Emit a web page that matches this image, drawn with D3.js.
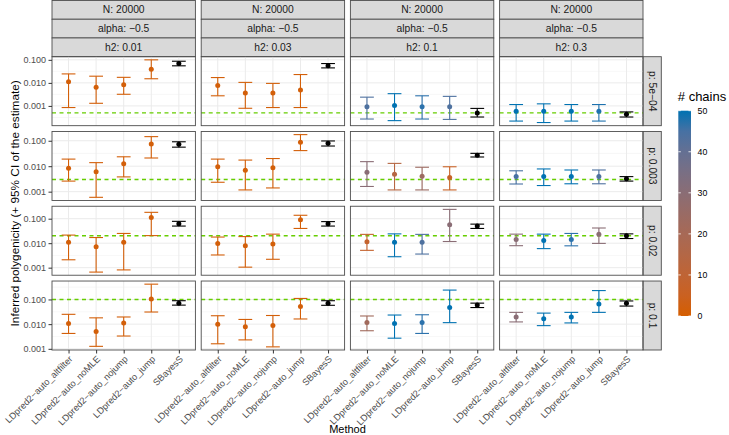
<!DOCTYPE html>
<html>
<head>
<meta charset="utf-8">
<script src="https://cdn.jsdelivr.net/npm/d3@7"></script>
<style>
  body { margin: 0; background: #fff; }
  svg { display: block; }
  text { font-family: "Liberation Sans", Arial, Helvetica, sans-serif; }
</style>
</head>
<body>
<div id="chart"></div>
<script>
// facet labels (R's pdf device draws "-" as a minus sign)
const methods = ["LDpred2\u2212auto_altfilter", "LDpred2\u2212auto_noMLE", "LDpred2\u2212auto_nojump", "LDpred2\u2212auto_jump", "SBayesS"];
const h2Labels = ["0.01", "0.03", "0.1", "0.3"];
const pValues = [5e-4, 0.003, 0.02, 0.1];
const pLabels = ["5e\u221204", "0.003", "0.02", "0.1"];
const yTicks = [0.001, 0.01, 0.1];
const chainTicks = [0, 10, 20, 30, 40, 50];

// [p row][h2 column][method]
const estimate = [
  [[0.0112, 0.0065, 0.0083, 0.039, 0.069], [0.0076, 0.0036, 0.0036, 0.0049, 0.055],
   [0.00091, 0.00105, 0.00093, 0.00091, 0.00049], [0.00059, 0.00059, 0.00059, 0.00059, 0.00044]],
  [[0.0083, 0.0060, 0.0126, 0.074, 0.072], [0.0095, 0.0069, 0.0087, 0.087, 0.079],
   [0.0058, 0.0048, 0.0040, 0.0036, 0.027], [0.0039, 0.0039, 0.0039, 0.0039, 0.0032]],
  [[0.011, 0.0071, 0.011, 0.112, 0.062], [0.0098, 0.0079, 0.0093, 0.091, 0.062],
   [0.0115, 0.011, 0.011, 0.056, 0.050], [0.0141, 0.0129, 0.0141, 0.0234, 0.020]],
  [[0.0107, 0.0050, 0.0112, 0.105, 0.071], [0.0098, 0.0079, 0.0089, 0.052, 0.071],
   [0.0117, 0.0107, 0.0117, 0.047, 0.059], [0.0195, 0.0166, 0.0195, 0.065, 0.071]]
];
const lower = [
  [[0.00085, 0.0013, 0.0032, 0.0151, 0.055], [0.00275, 0.00079, 0.00085, 0.00085, 0.0447],
   [0.00027, 0.00023, 0.00027, 0.00026, 0.00033], [0.00022, 0.00019, 0.00022, 0.00022, 0.00033]],
  [[0.0026, 0.0006, 0.0038, 0.021, 0.056], [0.00234, 0.00117, 0.0014, 0.041, 0.062],
   [0.0016, 0.00117, 0.00117, 0.00117, 0.023], [0.0020, 0.00174, 0.00204, 0.00204, 0.0026]],
  [[0.0021, 0.00066, 0.00081, 0.0204, 0.050], [0.0033, 0.00105, 0.0022, 0.040, 0.050],
   [0.0051, 0.0028, 0.0036, 0.0117, 0.040], [0.0079, 0.0060, 0.0078, 0.0098, 0.0155]],
  [[0.0042, 0.00126, 0.0033, 0.031, 0.059], [0.0016, 0.0023, 0.0012, 0.0162, 0.058],
   [0.0054, 0.0027, 0.0042, 0.0115, 0.047], [0.0123, 0.0087, 0.0112, 0.030, 0.054]]
];
const upper = [
  [[0.0245, 0.0195, 0.0174, 0.100, 0.087], [0.017, 0.0105, 0.0095, 0.023, 0.069],
   [0.0024, 0.0034, 0.00275, 0.0026, 0.00078], [0.00115, 0.00123, 0.00115, 0.00115, 0.00055]],
  [[0.019, 0.0138, 0.0234, 0.145, 0.091], [0.019, 0.0174, 0.020, 0.174, 0.098],
   [0.0151, 0.0129, 0.0091, 0.0095, 0.032], [0.0066, 0.0078, 0.0071, 0.0071, 0.0039]],
  [[0.0214, 0.017, 0.025, 0.182, 0.078], [0.0178, 0.0186, 0.0234, 0.138, 0.076],
   [0.0229, 0.024, 0.0229, 0.24, 0.060], [0.0234, 0.0234, 0.025, 0.0417, 0.024]],
  [[0.025, 0.018, 0.0195, 0.417, 0.089], [0.0219, 0.0155, 0.0224, 0.11, 0.089],
   [0.0214, 0.0234, 0.024, 0.24, 0.071], [0.030, 0.028, 0.030, 0.229, 0.087]]
];
// number of chains kept (SBayesS has none -> drawn in black)
const chains = [
  [[1, 1, 1, 1, null], [1, 1, 1, 1, null], [44, 50, 48, 44, null], [50, 50, 50, 49, null]],
  [[1, 1, 1, 1, null], [1, 1, 1, 1, null], [30, 14, 24, 6, null], [45, 50, 50, 44, null]],
  [[1, 1, 1, 1, null], [1, 1, 1, 1, null], [8, 50, 44, 30, null], [30, 50, 48, 30, null]],
  [[1, 1, 1, 1, null], [1, 1, 1, 1, null], [22, 50, 48, 50, null], [30, 50, 50, 50, null]]
];

const W = 729, H = 435;
const plotL = 52, plotR = 643, plotT = 56.7, plotB = 350, gap = 5.8;
const pw = (plotR - plotL - 3 * gap) / 4;
const ph = (plotB - plotT - 3 * gap) / 4;
const stripW = 18.3;
const border = "#4d4d4d";

const svg = d3.select("#chart").append("svg")
  .attr("width", W).attr("height", H);

const color = d3.scaleLinear().domain([0, 50])
  .range(["#D55E00", "#0072B2"])
  .interpolate(d3.interpolateLab);

const x = d3.scalePoint().domain(methods).range([0, pw]).padding(0.6);
const capW = x.step() * 0.5;

// one log scale per row (free y), 5% expansion like ggplot
const yScales = pValues.map((p, r) => {
  const vals = [].concat(...lower[r], ...upper[r], p).map(Math.log10);
  const lo = d3.min(vals), hi = d3.max(vals), pad = (hi - lo) * 0.05;
  return d3.scaleLog().domain([Math.pow(10, lo - pad), Math.pow(10, hi + pad)]).range([ph, 0]);
});

const fmt = d3.format(".3f");

// top strips
const stripLines = [c => "N: 20000", c => "alpha: \u22120.5", c => "h2: " + h2Labels[c]];
const sh = (plotT - 0.5) / 3;
h2Labels.forEach((h, c) => {
  const x0 = plotL + c * (pw + gap);
  stripLines.forEach((lab, k) => {
    const y0 = 0.5 + k * sh;
    svg.append("rect").attr("x", x0).attr("y", y0)
      .attr("width", pw).attr("height", sh)
      .attr("fill", "#d9d9d9").attr("stroke", border).attr("stroke-width", 0.9);
    svg.append("text").attr("x", x0 + pw / 2).attr("y", y0 + sh / 2 + 3.6)
      .attr("text-anchor", "middle").attr("font-size", 10.3).attr("fill", "#1a1a1a")
      .text(lab(c));
  });
});

pValues.forEach((p, r) => {
  const y0 = plotT + r * (ph + gap);
  const y = yScales[r];
  const [d0, d1] = y.domain().map(Math.log10);

  // right strip
  svg.append("rect").attr("x", plotR).attr("y", y0).attr("width", stripW).attr("height", ph)
    .attr("fill", "#d9d9d9").attr("stroke", border).attr("stroke-width", 0.9);
  svg.append("text")
    .attr("transform", `translate(${plotR + stripW / 2 - 3.6},${y0 + ph / 2}) rotate(90)`)
    .attr("text-anchor", "middle").attr("font-size", 10.3).attr("fill", "#1a1a1a")
    .text("p: " + pLabels[r]);

  h2Labels.forEach((h, c) => {
    const x0 = plotL + c * (pw + gap);
    const g = svg.append("g").attr("transform", `translate(${x0},${y0})`);

    // grid
    const minor = d3.range(Math.ceil(d0 - 0.5) + 0.5, d1, 1).filter(v => v > d0 && v < d1);
    g.selectAll(".minor").data(minor).enter().append("line")
      .attr("x1", 0).attr("x2", pw)
      .attr("y1", v => y(Math.pow(10, v))).attr("y2", v => y(Math.pow(10, v)))
      .attr("stroke", "#f2f2f2").attr("stroke-width", 0.6);
    g.selectAll(".major").data(yTicks).enter().append("line")
      .attr("x1", 0).attr("x2", pw).attr("y1", d => y(d)).attr("y2", d => y(d))
      .attr("stroke", "#ebebeb").attr("stroke-width", 1);
    g.selectAll(".vgrid").data(methods).enter().append("line")
      .attr("x1", d => x(d)).attr("x2", d => x(d)).attr("y1", 0).attr("y2", ph)
      .attr("stroke", "#ebebeb").attr("stroke-width", 1);

    // true polygenicity
    g.append("line").attr("x1", 0).attr("x2", pw).attr("y1", y(p)).attr("y2", y(p))
      .attr("stroke", "#66CD00").attr("stroke-width", 1.4).attr("stroke-dasharray", "4,3.5");

    const rows = methods.map((m, i) => ({
      m, est: estimate[r][c][i], lo: lower[r][c][i], hi: upper[r][c][i], n: chains[r][c][i]
    }));
    const col = d => d.n === null ? "#000" : color(d.n);

    const eb = g.selectAll(".eb").data(rows).enter().append("g");
    eb.append("line").attr("x1", d => x(d.m)).attr("x2", d => x(d.m))
      .attr("y1", d => y(d.lo)).attr("y2", d => y(d.hi))
      .attr("stroke", col).attr("stroke-width", 1.1);
    ["lo", "hi"].forEach(k => {
      eb.append("line").attr("x1", d => x(d.m) - capW / 2).attr("x2", d => x(d.m) + capW / 2)
        .attr("y1", d => y(d[k])).attr("y2", d => y(d[k]))
        .attr("stroke", col).attr("stroke-width", 1.1);
    });
    eb.append("circle").attr("cx", d => x(d.m)).attr("cy", d => y(d.est)).attr("r", 2.5)
      .attr("fill", col);

    // panel border
    g.append("rect").attr("width", pw).attr("height", ph)
      .attr("fill", "none").attr("stroke", border).attr("stroke-width", 0.9);

    // y axis on first column
    if (c === 0) {
      const ax = g.append("g").call(d3.axisLeft(y).tickValues(yTicks).tickFormat(fmt).tickSize(3.5).tickPadding(2.5));
      ax.select(".domain").remove();
      ax.selectAll("line").attr("stroke", "#333");
      ax.selectAll("text").attr("font-size", 9).attr("fill", "#4d4d4d")
        .attr("font-family", "Liberation Sans, Arial, sans-serif");
    }
    // x axis on last row
    if (r === pValues.length - 1) {
      const ax = g.append("g").attr("transform", `translate(0,${ph})`)
        .call(d3.axisBottom(x).tickSize(3.5).tickFormat(""));
      ax.select(".domain").remove();
      ax.selectAll("line").attr("stroke", "#333");
      g.selectAll(".xlab").data(methods).enter().append("text")
        .attr("transform", d => `translate(${x(d)},${ph + 5}) rotate(-45)`)
        .attr("text-anchor", "end").attr("dy", "0.71em")
        .attr("font-size", 9.2).attr("fill", "#4d4d4d")
        .text(d => d);
    }
  });
});

// axis titles
svg.append("text").attr("x", (plotL + plotR) / 2).attr("y", 433)
  .attr("text-anchor", "middle").attr("font-size", 11).text("Method");
svg.append("text")
  .attr("transform", `translate(18.5,${(plotT + plotB) / 2}) rotate(-90)`)
  .attr("text-anchor", "middle").attr("font-size", 11.8)
  .text("Inferred polygenicity  (+ 95% CI of the estimate)");

// colour bar legend
const lgX = 678.3, lgW = 12.7, lgTop = 110.7, lgBot = 316;
const ly = d3.scaleLinear().domain([0, 50]).range([lgBot, lgTop]);
const grad = svg.append("defs").append("linearGradient").attr("id", "cbar")
  .attr("x1", 0).attr("x2", 0).attr("y1", 1).attr("y2", 0);
d3.range(0, 51, 5).forEach(v => {
  grad.append("stop").attr("offset", v / 50).attr("stop-color", color(v));
});
svg.append("rect").attr("x", lgX).attr("y", lgTop).attr("width", lgW).attr("height", lgBot - lgTop)
  .attr("fill", "url(#cbar)");
chainTicks.forEach(v => {
  [[lgX, lgX + lgW * 0.2], [lgX + lgW * 0.8, lgX + lgW]].forEach(([a, b]) => {
    svg.append("line").attr("x1", a).attr("x2", b).attr("y1", ly(v)).attr("y2", ly(v))
      .attr("stroke", "#fff").attr("stroke-width", 0.8);
  });
  svg.append("text").attr("x", lgX + lgW + 6.5).attr("y", ly(v) + 3)
    .attr("font-size", 8.8).attr("fill", "#000").text(v);
});
svg.append("text").attr("x", lgX - 0.5).attr("y", 101).attr("font-size", 13)
  .text("# chains");
</script>
</body>
</html>
